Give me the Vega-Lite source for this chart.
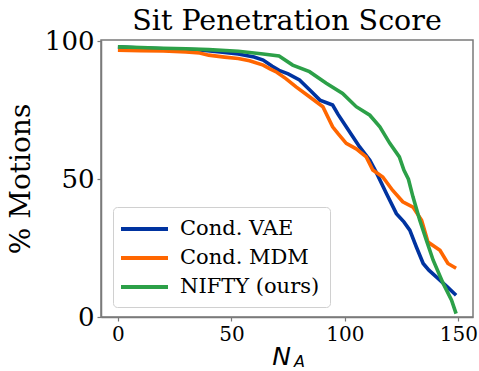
{
  "$schema": "https://vega.github.io/schema/vega-lite/v6.json",
  "width": 372,
  "height": 277,
  "autosize": {"type": "none"},
  "padding": {"left": 101, "top": 40, "right": 6, "bottom": 54},
  "background": "white",
  "config": {
    "view": {"stroke": "#7a7a7a", "strokeWidth": 1.5},
    "axis": {"grid": false, "domainColor": "#7a7a7a", "domainWidth": 1.5, "tickColor": "#7a7a7a", "tickWidth": 1.2, "tickSize": 4, "labelColor": "black", "titleColor": "black", "titleFontWeight": "normal"}
  },
  "title": {"text": "Sit Penetration Score", "font": "DejaVu Serif", "fontSize": 28.5, "fontWeight": "normal", "color": "black", "offset": -7},
  "data": {"values": [
    {"method": "Cond. VAE", "n": 0, "pct": 98.0},
    {"method": "Cond. VAE", "n": 10, "pct": 97.6},
    {"method": "Cond. VAE", "n": 20, "pct": 97.3},
    {"method": "Cond. VAE", "n": 30, "pct": 97.0},
    {"method": "Cond. VAE", "n": 36, "pct": 96.9},
    {"method": "Cond. VAE", "n": 45, "pct": 96.2},
    {"method": "Cond. VAE", "n": 53, "pct": 95.4},
    {"method": "Cond. VAE", "n": 60, "pct": 94.3},
    {"method": "Cond. VAE", "n": 64, "pct": 93.2},
    {"method": "Cond. VAE", "n": 68, "pct": 91.0},
    {"method": "Cond. VAE", "n": 71, "pct": 89.5},
    {"method": "Cond. VAE", "n": 75, "pct": 88.2},
    {"method": "Cond. VAE", "n": 80, "pct": 86.0},
    {"method": "Cond. VAE", "n": 85, "pct": 82.0},
    {"method": "Cond. VAE", "n": 89, "pct": 78.7},
    {"method": "Cond. VAE", "n": 94.6, "pct": 76.9},
    {"method": "Cond. VAE", "n": 97, "pct": 73.5},
    {"method": "Cond. VAE", "n": 100.6, "pct": 69.0},
    {"method": "Cond. VAE", "n": 103, "pct": 66.0},
    {"method": "Cond. VAE", "n": 106.5, "pct": 61.7},
    {"method": "Cond. VAE", "n": 111, "pct": 56.9},
    {"method": "Cond. VAE", "n": 114, "pct": 52.2},
    {"method": "Cond. VAE", "n": 118.3, "pct": 44.8},
    {"method": "Cond. VAE", "n": 122.7, "pct": 37.5},
    {"method": "Cond. VAE", "n": 126, "pct": 34.5},
    {"method": "Cond. VAE", "n": 128.6, "pct": 31.5},
    {"method": "Cond. VAE", "n": 131.5, "pct": 25.4},
    {"method": "Cond. VAE", "n": 134.5, "pct": 19.4},
    {"method": "Cond. VAE", "n": 137, "pct": 17.0},
    {"method": "Cond. VAE", "n": 140.4, "pct": 14.5},
    {"method": "Cond. VAE", "n": 145, "pct": 11.0},
    {"method": "Cond. VAE", "n": 149, "pct": 7.9},
    {"method": "Cond. MDM", "n": 0, "pct": 96.8},
    {"method": "Cond. MDM", "n": 10, "pct": 96.6},
    {"method": "Cond. MDM", "n": 20, "pct": 96.5},
    {"method": "Cond. MDM", "n": 30, "pct": 96.2},
    {"method": "Cond. MDM", "n": 36, "pct": 95.8},
    {"method": "Cond. MDM", "n": 40, "pct": 95.0},
    {"method": "Cond. MDM", "n": 47, "pct": 94.3},
    {"method": "Cond. MDM", "n": 53, "pct": 93.8},
    {"method": "Cond. MDM", "n": 58, "pct": 93.0},
    {"method": "Cond. MDM", "n": 64, "pct": 91.4},
    {"method": "Cond. MDM", "n": 67, "pct": 90.0},
    {"method": "Cond. MDM", "n": 70, "pct": 88.8},
    {"method": "Cond. MDM", "n": 74, "pct": 86.5},
    {"method": "Cond. MDM", "n": 78.5, "pct": 83.5},
    {"method": "Cond. MDM", "n": 84.4, "pct": 79.9},
    {"method": "Cond. MDM", "n": 90.3, "pct": 76.3},
    {"method": "Cond. MDM", "n": 94.6, "pct": 69.0},
    {"method": "Cond. MDM", "n": 97, "pct": 66.5},
    {"method": "Cond. MDM", "n": 100.6, "pct": 63.0},
    {"method": "Cond. MDM", "n": 105, "pct": 61.0},
    {"method": "Cond. MDM", "n": 109.4, "pct": 58.1},
    {"method": "Cond. MDM", "n": 112.3, "pct": 53.3},
    {"method": "Cond. MDM", "n": 116.7, "pct": 50.8},
    {"method": "Cond. MDM", "n": 121, "pct": 46.0},
    {"method": "Cond. MDM", "n": 125.5, "pct": 41.8},
    {"method": "Cond. MDM", "n": 130, "pct": 39.9},
    {"method": "Cond. MDM", "n": 133.8, "pct": 35.1},
    {"method": "Cond. MDM", "n": 136.6, "pct": 27.2},
    {"method": "Cond. MDM", "n": 141.9, "pct": 24.2},
    {"method": "Cond. MDM", "n": 145.4, "pct": 19.4},
    {"method": "Cond. MDM", "n": 149, "pct": 17.7},
    {"method": "NIFTY (ours)", "n": 0, "pct": 98.0},
    {"method": "NIFTY (ours)", "n": 10, "pct": 97.8},
    {"method": "NIFTY (ours)", "n": 20, "pct": 97.5},
    {"method": "NIFTY (ours)", "n": 30, "pct": 97.3},
    {"method": "NIFTY (ours)", "n": 40, "pct": 97.0},
    {"method": "NIFTY (ours)", "n": 53, "pct": 96.4},
    {"method": "NIFTY (ours)", "n": 64, "pct": 95.4},
    {"method": "NIFTY (ours)", "n": 71, "pct": 94.7},
    {"method": "NIFTY (ours)", "n": 77, "pct": 91.4},
    {"method": "NIFTY (ours)", "n": 84.4, "pct": 89.0},
    {"method": "NIFTY (ours)", "n": 91.8, "pct": 84.8},
    {"method": "NIFTY (ours)", "n": 99, "pct": 81.1},
    {"method": "NIFTY (ours)", "n": 105, "pct": 76.3},
    {"method": "NIFTY (ours)", "n": 111, "pct": 73.2},
    {"method": "NIFTY (ours)", "n": 115.4, "pct": 69.0},
    {"method": "NIFTY (ours)", "n": 119.8, "pct": 63.0},
    {"method": "NIFTY (ours)", "n": 124, "pct": 58.1},
    {"method": "NIFTY (ours)", "n": 126, "pct": 53.3},
    {"method": "NIFTY (ours)", "n": 128, "pct": 50.0},
    {"method": "NIFTY (ours)", "n": 130, "pct": 43.6},
    {"method": "NIFTY (ours)", "n": 133, "pct": 35.1},
    {"method": "NIFTY (ours)", "n": 135.9, "pct": 27.9},
    {"method": "NIFTY (ours)", "n": 138.9, "pct": 20.6},
    {"method": "NIFTY (ours)", "n": 143.3, "pct": 12.2},
    {"method": "NIFTY (ours)", "n": 147, "pct": 6.1},
    {"method": "NIFTY (ours)", "n": 149, "pct": 1.2}
  ]},
  "layer": [
    {
      "mark": {"type": "line", "strokeWidth": 3.6, "interpolate": "linear"},
      "encoding": {
        "x": {"field": "n", "type": "quantitative",
          "scale": {"domain": [-7.45, 156.45], "nice": false, "zero": false},
          "axis": {"orient": "bottom", "values": [0, 50, 100, 150], "title": "N", "labelFont": "DejaVu Serif", "labelFontSize": 20, "labelPadding": 3, "titleFont": "DejaVu Sans", "titleFontStyle": "italic", "titleFontSize": 25, "titlePadding": 0, "titleX": 180}},
        "y": {"field": "pct", "type": "quantitative",
          "scale": {"domain": [0, 100.5], "nice": false},
          "axis": {"values": [0, 50, 100], "title": "% Motions", "labelFont": "DejaVu Serif", "labelFontSize": 26, "labelPadding": 3, "titleFont": "DejaVu Serif", "titleFontSize": 28, "titlePadding": 9}},
        "color": {"field": "method", "type": "nominal",
          "scale": {"domain": ["Cond. VAE", "Cond. MDM", "NIFTY (ours)"], "range": ["#0033a0", "#ff6600", "#2ca048"]},
          "legend": {"orient": "none", "legendX": 12, "legendY": 167, "title": null, "symbolType": "M-1.4,0L3.3,0", "symbolSize": 400, "symbolStrokeWidth": 4, "labelFont": "DejaVu Serif", "labelFontSize": 21, "labelColor": "black", "labelOffset": 33, "rowPadding": 7, "padding": 10, "fillColor": "white", "strokeColor": "#d0d0d0", "cornerRadius": 4}}
      }
    },
    {
      "mark": {"type": "point", "opacity": 0},
      "encoding": {
        "x": {"field": "n", "type": "quantitative",
          "axis": {"orient": "bottom", "title": "A", "labels": false, "ticks": false, "domain": false, "titleFont": "DejaVu Sans", "titleFontStyle": "italic", "titleFontSize": 16, "titleX": 198, "titleY": 36}},
        "y": {"field": "pct", "type": "quantitative"}
      }
    }
  ],
  "resolve": {"axis": {"x": "independent"}}
}
